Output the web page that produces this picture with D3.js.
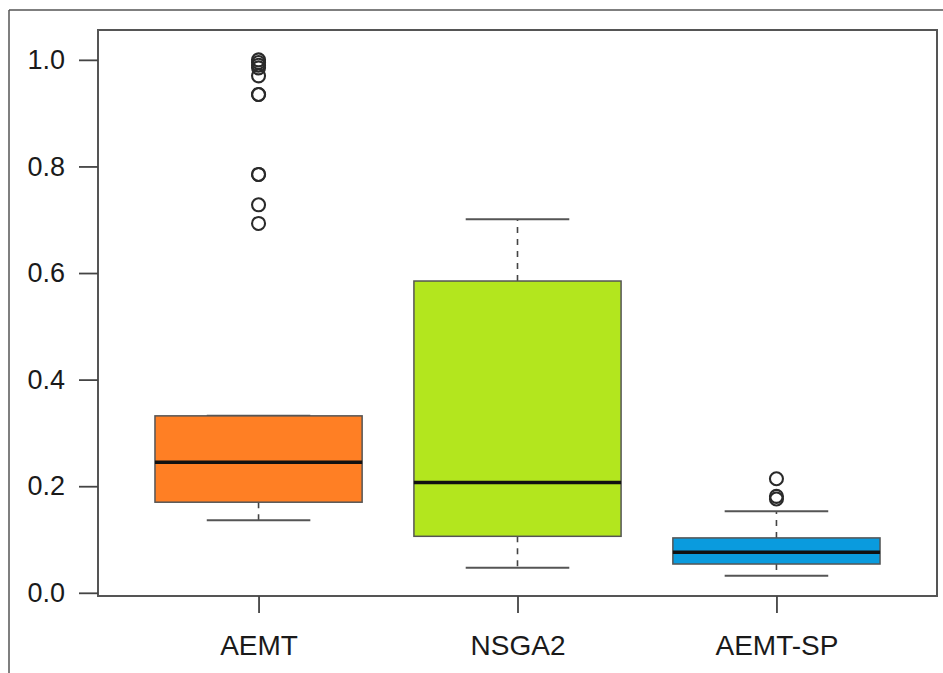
<!DOCTYPE html>
<html>
<head>
<meta charset="utf-8">
<script src="https://cdn.jsdelivr.net/npm/d3@7"></script>
<style>
  html, body { margin: 0; padding: 0; background: #fff; }
  svg { display: block; }
  text { font-family: "Liberation Sans", Arial, Helvetica, sans-serif; fill: #1a1a1a; }
</style>
</head>
<body>
<svg id="chart" width="943" height="673"></svg>
<script>
// ---- data ----
const categories = ["AEMT", "NSGA2", "AEMT-SP"];
const lowerWhisker = [0.136, 0.047, 0.032];
const q1 = [0.170, 0.106, 0.054];
const median = [0.245, 0.207, 0.076];
const q3 = [0.332, 0.585, 0.103];
const upperWhisker = [0.332, 0.701, 0.153];
const outliers = [
  [1.0, 0.995, 0.99, 0.985, 0.97, 0.935, 0.935, 0.785, 0.785, 0.728, 0.693],
  [],
  [0.214, 0.181, 0.176]
];
const fills = ["#FF7F24", "#B3E61E", "#0A9BDE"];
const yTicks = [0.0, 0.2, 0.4, 0.6, 0.8, 1.0];
const yTickLabels = ["0.0", "0.2", "0.4", "0.6", "0.8", "1.0"];

// ---- layout ----
const svg = d3.select("#chart");
const mLeft = 98, mRight = 937, mTop = 30, mBottom = 596;

const x = d3.scaleLinear().domain([0.38, 3.62]).range([mLeft, mRight]);
const y = d3.scaleLinear().domain([-0.006, 1.056]).range([mBottom, mTop]);

// outer frame (top and left lines)
svg.append("line").attr("x1", 9).attr("x2", 943).attr("y1", 10).attr("y2", 10)
  .attr("stroke", "#555").attr("stroke-width", 1.5);
svg.append("line").attr("x1", 9).attr("x2", 9).attr("y1", 10).attr("y2", 673)
  .attr("stroke", "#555").attr("stroke-width", 1.5);

const boxW = 0.8, capW = 0.4;

categories.forEach((c, i) => {
  const p = i + 1;
  const g = svg.append("g");
  // whiskers (dashed)
  g.append("line").attr("x1", x(p)).attr("x2", x(p))
    .attr("y1", y(q3[i])).attr("y2", y(upperWhisker[i]))
    .attr("stroke", "#444").attr("stroke-width", 1.6).attr("stroke-dasharray", "6,6");
  g.append("line").attr("x1", x(p)).attr("x2", x(p))
    .attr("y1", y(q1[i])).attr("y2", y(lowerWhisker[i]))
    .attr("stroke", "#444").attr("stroke-width", 1.6).attr("stroke-dasharray", "6,6");
  // caps
  [upperWhisker[i], lowerWhisker[i]].forEach(v => {
    g.append("line").attr("x1", x(p - capW / 2)).attr("x2", x(p + capW / 2))
      .attr("y1", y(v)).attr("y2", y(v))
      .attr("stroke", "#555").attr("stroke-width", 2);
  });
  // box
  g.append("rect")
    .attr("x", x(p - boxW / 2)).attr("width", x(p + boxW / 2) - x(p - boxW / 2))
    .attr("y", y(q3[i])).attr("height", y(q1[i]) - y(q3[i]))
    .attr("fill", fills[i]).attr("stroke", "#555").attr("stroke-width", 1.5);
  // median
  g.append("line").attr("x1", x(p - boxW / 2)).attr("x2", x(p + boxW / 2))
    .attr("y1", y(median[i])).attr("y2", y(median[i]))
    .attr("stroke", "#111").attr("stroke-width", 3.5);
  // outliers
  g.selectAll("circle.o").data(outliers[i]).enter().append("circle")
    .attr("cx", x(p)).attr("cy", d => y(d)).attr("r", 6.5)
    .attr("fill", "none").attr("stroke", "#2a2a2a").attr("stroke-width", 2.1);
});

// plot frame
svg.append("rect").attr("x", mLeft).attr("y", mTop)
  .attr("width", mRight - mLeft).attr("height", mBottom - mTop)
  .attr("fill", "none").attr("stroke", "#555").attr("stroke-width", 2);

// y axis
const yAxis = d3.axisLeft(y).tickValues(yTicks)
  .tickFormat((d, i) => yTickLabels[i]).tickSize(19).tickPadding(14);
const ya = svg.append("g").attr("transform", `translate(${mLeft},0)`).call(yAxis);
ya.select(".domain").remove();
ya.selectAll(".tick line").attr("stroke", "#444").attr("stroke-width", 1.8);
ya.selectAll(".tick text").style("font-size", "27px").attr("fill", "#1a1a1a")
  .style("font-family", "'Liberation Sans', Arial, sans-serif");

// x axis
const xAxis = d3.axisBottom(x).tickValues([1, 2, 3])
  .tickFormat((d) => categories[d - 1]).tickSize(17).tickPadding(22);
const xa = svg.append("g").attr("transform", `translate(0,${mBottom})`).call(xAxis);
xa.select(".domain").remove();
xa.selectAll(".tick line").attr("stroke", "#444").attr("stroke-width", 1.8);
xa.selectAll(".tick text").style("font-size", "28px").attr("fill", "#1a1a1a")
  .style("font-family", "'Liberation Sans', Arial, sans-serif");
</script>
</body>
</html>
